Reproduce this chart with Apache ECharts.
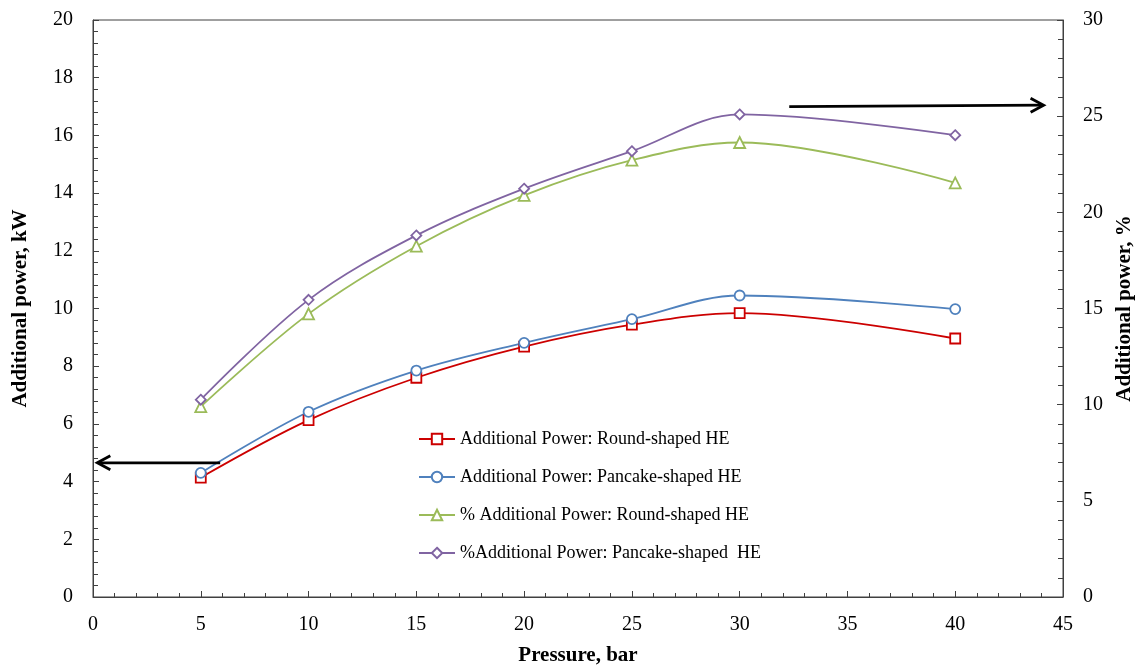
<!DOCTYPE html>
<html>
<head>
<meta charset="utf-8">
<script src="https://cdn.jsdelivr.net/npm/echarts@6/dist/echarts.min.js"></script>
<style>html,body{margin:0;padding:0;background:#fff}#c{width:1143px;height:667px}</style>
</head>
<body>
<div id="c"></div>
<script>
const pressure = [5, 10, 15, 20, 25, 30, 40];
const roundKW = [4.14, 6.13, 7.6, 8.68, 9.44, 9.84, 8.96];
const pancakeKW = [4.30, 6.42, 7.85, 8.81, 9.63, 10.45, 9.98];
const roundPct = [9.9, 14.72, 18.24, 20.88, 22.71, 23.63, 21.53];
const pancakePct = [10.26, 15.45, 18.8, 21.23, 23.18, 25.09, 24.01];
const seriesNames = [
  'Additional Power: Round-shaped HE',
  'Additional Power: Pancake-shaped HE',
  '% Additional Power: Round-shaped HE',
  '%Additional Power: Pancake-shaped  HE'
];
// arrows: [xStart, yStart, xEnd(tip), yEnd]
const leftArrow = [[5.9, 4.65, 0.2, 4.65]];   // left axis (kW)
const rightArrow = [[32.3, 25.5, 44.1, 25.57]]; // right axis (%)

const FONT = "'Liberation Serif', 'Times New Roman', serif";
const AX = '#404040';

function pair(xs, ys) { return xs.map((x, i) => [x, ys[i]]); }

function mkSeries(name, data, color, symbol, size, yIdx) {
  return {
    name, type: 'line', data: pair(pressure, data), yAxisIndex: yIdx,
    smooth: 0.35, symbol, symbolSize: size, showAllSymbol: true,
    lineStyle: { color, width: 1.8 },
    itemStyle: { color: '#fff', borderColor: color, borderWidth: 1.8 },
    emphasis: { disabled: true }, z: 3
  };
}

function arrowRender(params, api) {
  const p1 = api.coord([api.value(0), api.value(1)]);
  const p2 = api.coord([api.value(2), api.value(3)]);
  const dx = p2[0] - p1[0], dy = p2[1] - p1[1];
  const len = Math.sqrt(dx * dx + dy * dy);
  const ux = dx / len, uy = dy / len;
  const hl = 13, hw = 7;
  const a = [p2[0] - ux * hl - uy * hw, p2[1] - uy * hl + ux * hw];
  const b = [p2[0] - ux * hl + uy * hw, p2[1] - uy * hl - ux * hw];
  return {
    type: 'group',
    children: [
      { type: 'line', shape: { x1: p1[0], y1: p1[1], x2: p2[0] - ux * 1.5, y2: p2[1] - uy * 1.5 },
        style: { stroke: '#000', lineWidth: 2.8 } },
      { type: 'polyline', shape: { points: [a, p2, b] },
        style: { stroke: '#000', lineWidth: 2.8, fill: null } }
    ]
  };
}

const chart = echarts.init(document.getElementById('c'), null, { renderer: 'canvas' });
chart.setOption({
  animation: false,
  backgroundColor: '#fff',
  textStyle: { fontFamily: FONT },
  grid: { left: 93, right: 80, top: 20, bottom: 70, containLabel: false, outerBoundsMode: 'none',
    show: true, borderColor: AX, borderWidth: 1, backgroundColor: 'transparent' },
  legend: {
    data: seriesNames, orient: 'vertical', left: 418, top: 430, padding: 0,
    itemWidth: 36, itemHeight: 13, itemGap: 20,
    textStyle: { fontFamily: FONT, fontSize: 18, color: '#000' }
  },
  xAxis: {
    type: 'value', min: 0, max: 45, interval: 5,
    name: 'Pressure, bar', nameLocation: 'middle', nameGap: 48,
    nameTextStyle: { fontFamily: FONT, fontSize: 21, fontWeight: 'bold', color: '#000' },
    axisLine: { show: true, onZero: false, lineStyle: { color: AX, width: 1 } },
    axisTick: { show: true, inside: true, length: 6, lineStyle: { color: AX } },
    minorTick: { show: true, splitNumber: 5, length: 4, lineStyle: { color: AX } },
    splitLine: { show: false },
    axisLabel: { fontFamily: FONT, fontSize: 20, color: '#000', margin: 18 }
  },
  yAxis: [
    {
      type: 'value', min: 0, max: 20, interval: 2, position: 'left',
      name: 'Additional power, kW', nameLocation: 'middle', nameGap: 62, nameRotate: 90,
      nameTextStyle: { fontFamily: FONT, fontSize: 21, fontWeight: 'bold', color: '#000' },
      axisLine: { show: true, lineStyle: { color: AX, width: 1 } },
      axisTick: { show: true, inside: true, length: 6, lineStyle: { color: AX } },
      minorTick: { show: true, splitNumber: 5, length: 5, lineStyle: { color: AX } },
      splitLine: { show: false },
      axisLabel: { fontFamily: FONT, fontSize: 20, color: '#000', margin: 20 }
    },
    {
      type: 'value', min: 0, max: 30, interval: 5, position: 'right',
      name: 'Additional power, %', nameLocation: 'middle', nameGap: 51, nameRotate: 90,
      nameTextStyle: { fontFamily: FONT, fontSize: 21, fontWeight: 'bold', color: '#000' },
      axisLine: { show: true, lineStyle: { color: AX, width: 1 } },
      axisTick: { show: true, inside: true, length: 6, lineStyle: { color: AX } },
      minorTick: { show: true, splitNumber: 5, length: 5, lineStyle: { color: AX } },
      splitLine: { show: false },
      axisLabel: { fontFamily: FONT, fontSize: 20, color: '#000', margin: 20 }
    }
  ],
  series: [
    mkSeries(seriesNames[0], roundKW, '#CC0000', 'rect', 10, 0),
    mkSeries(seriesNames[1], pancakeKW, '#4F81BD', 'circle', 10, 0),
    mkSeries(seriesNames[2], roundPct, '#9BBB59', 'triangle', 11, 1),
    mkSeries(seriesNames[3], pancakePct, '#8064A2', 'diamond', 10, 1),
    { type: 'custom', name: 'arrowL', yAxisIndex: 0, data: leftArrow, renderItem: arrowRender,
      encode: { x: [0, 2], y: [1, 3] }, clip: false, silent: true, z: 5 },
    { type: 'custom', name: 'arrowR', yAxisIndex: 1, data: rightArrow, renderItem: arrowRender,
      encode: { x: [0, 2], y: [1, 3] }, clip: false, silent: true, z: 5 }
  ]
});
</script>
</body>
</html>
